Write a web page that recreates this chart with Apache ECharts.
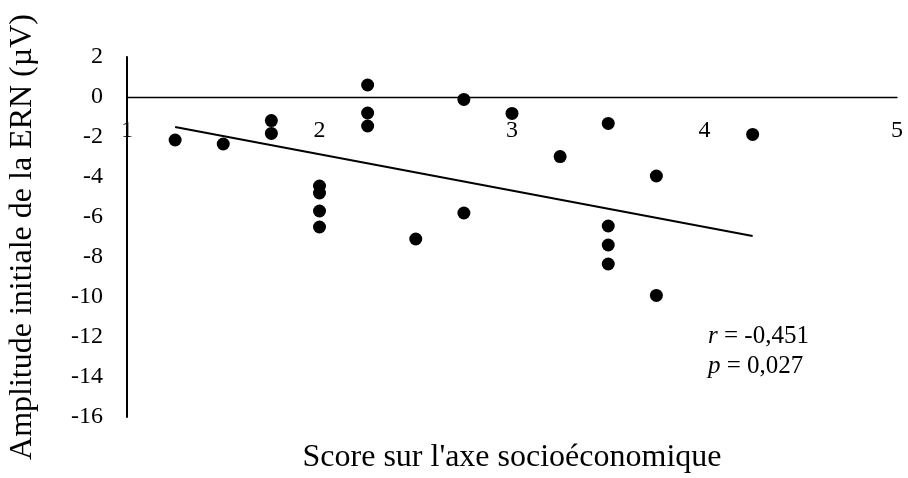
<!DOCTYPE html>
<html>
<head>
<meta charset="utf-8">
<script src="https://cdn.jsdelivr.net/npm/echarts@6/dist/echarts.min.js"></script>
<style>
  html, body { margin: 0; padding: 0; background: #fff; }
  #chart { width: 908px; height: 478px; }
</style>
</head>
<body>
<div id="chart"></div>
<script>
// Socioeconomic score of each participant
var xScore = [1.25, 1.5, 1.75, 1.75, 2, 2, 2, 2, 2.25, 2.25, 2.25, 2.5, 2.75, 2.75, 3, 3.25, 3.5, 3.5, 3.5, 3.5, 3.75, 3.75, 4.25];
// Initial ERN amplitude (µV) of each participant
var ernAmp = [-2.15, -2.35, -1.18, -1.82, -4.45, -4.8, -5.7, -6.5, 0.6, -0.8, -1.45, -7.1, -0.12, -5.8, -0.82, -2.98, -1.32, -6.45, -7.4, -8.35, -3.95, -9.92, -1.87];
// Linear fit endpoints
var trendX = [1.25, 4.25];
var trendY = [-1.5, -6.95];
// Axis ranges
var xTicks = { min: 1, max: 5, step: 1 };
var yTicks = { min: -16, max: 2, step: 2 };
// Statistics shown in the corner
var statR = '-0,451';
var statP = '0,027';

var FONT = "'Liberation Serif', 'Times New Roman', serif";

var points = xScore.map(function (x, i) { return [x, ernAmp[i]]; });
var trend = trendX.map(function (x, i) { return [x, trendY[i]]; });

var GRID = { left: 127, right: 11, top: 57, bottom: 61 };
var plotH = 478 - GRID.top - GRID.bottom;
// lift the x axis (line + labels) up to the y = 0 level
var zeroLift = -plotH * (0 - yTicks.min) / (yTicks.max - yTicks.min);

var chart = echarts.init(document.getElementById('chart'), null, { renderer: 'canvas' });
chart.setOption({
  backgroundColor: '#ffffff',
  animation: false,
  grid: { left: GRID.left, right: GRID.right, top: GRID.top, bottom: GRID.bottom, containLabel: false, outerBoundsMode: 'none' },
  xAxis: {
    type: 'value',
    position: 'bottom',
    offset: zeroLift,
    min: xTicks.min, max: xTicks.max, interval: xTicks.step,
    name: "Score sur l'axe socioéconomique",
    nameLocation: 'middle',
    nameGap: 345,
    nameTextStyle: { fontFamily: FONT, fontSize: 32, color: '#000' },
    axisLine: { onZero: false, lineStyle: { color: '#000', width: 1.3 } },
    axisTick: { show: false },
    splitLine: { show: false },
    axisLabel: { fontFamily: FONT, fontSize: 24, color: '#000', margin: 22 }
  },
  yAxis: {
    type: 'value',
    min: yTicks.min, max: yTicks.max, interval: yTicks.step,
    name: 'Amplitude initiale de la ERN (µV)',
    nameLocation: 'middle',
    nameGap: 88,
    nameTextStyle: { fontFamily: FONT, fontSize: 32, color: '#000' },
    axisLine: { show: true, lineStyle: { color: '#000', width: 2 } },
    axisTick: { show: false },
    splitLine: { show: false },
    axisLabel: { fontFamily: FONT, fontSize: 24, color: '#000', margin: 24 }
  },
  series: [
    {
      type: 'scatter',
      data: points,
      symbol: 'circle',
      symbolSize: 13,
      itemStyle: { color: '#000', opacity: 1 },
      z: 3
    },
    {
      type: 'line',
      data: trend,
      symbol: 'none',
      lineStyle: { color: '#000', width: 2 },
      z: 2
    }
  ],
  graphic: [
    {
      type: 'text', left: 708, top: 324,
      style: {
        text: '{i|r} = ' + statR,
        font: '25px ' + FONT, fill: '#000',
        rich: { i: { fontStyle: 'italic', fontFamily: FONT, fontSize: 25 } }
      }
    },
    {
      type: 'text', left: 708, top: 354,
      style: {
        text: '{i|p} = ' + statP,
        font: '25px ' + FONT, fill: '#000',
        rich: { i: { fontStyle: 'italic', fontFamily: FONT, fontSize: 25 } }
      }
    }
  ]
});
</script>
</body>
</html>
